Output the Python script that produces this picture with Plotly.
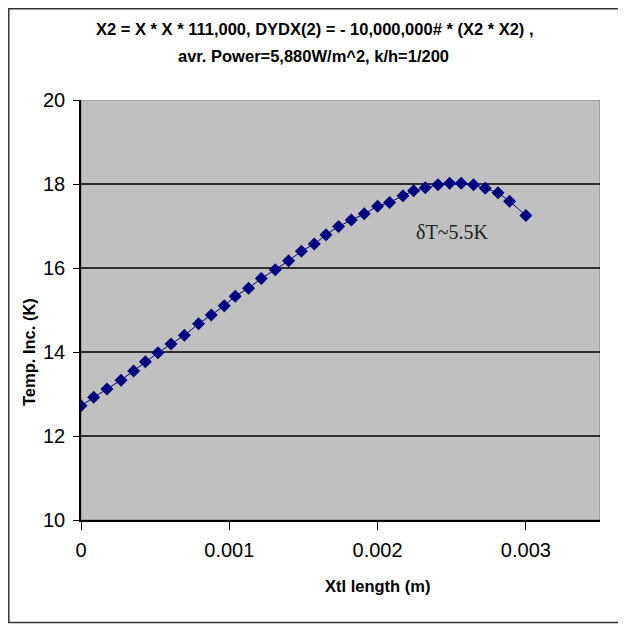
import plotly.graph_objects as go

# Data
xtl_length_m = [0.0, 0.000085, 0.000175, 0.00027, 0.000355, 0.000434, 0.000519, 0.000607,
                0.000697, 0.000793, 0.000879, 0.000966, 0.00104, 0.00113, 0.001216, 0.00131,
                0.0014, 0.001486, 0.001573, 0.001652, 0.001737, 0.001823, 0.00191, 0.002,
                0.002081, 0.002171, 0.002243, 0.002322, 0.002407, 0.002486, 0.002564, 0.002647,
                0.002726, 0.002812, 0.00289, 0.003]
temp_inc_k = [12.72, 12.92, 13.12, 13.33, 13.55, 13.77, 13.98, 14.19,
              14.40, 14.67, 14.88, 15.10, 15.33, 15.52, 15.75, 15.96,
              16.17, 16.40, 16.57, 16.79, 16.99, 17.14, 17.29, 17.47,
              17.56, 17.72, 17.84, 17.91, 17.98, 18.02, 18.02, 17.98,
              17.90, 17.79, 17.59, 17.25]
x_ticks = [0, 0.001, 0.002, 0.003]
x_tick_labels = ["0", "0.001", "0.002", "0.003"]
y_ticks = [10, 12, 14, 16, 18, 20]
grid_values = [12, 14, 16, 18]
x_range = [0, 0.0035]
y_range = [10, 20]

title_lines = ["X2 = X * X * 111,000, DYDX(2) = - 10,000,000# * (X2 * X2) ,",
               "avr. Power=5,880W/m^2, k/h=1/200"]
annot_text = "δT~5.5K"
annot_pos = (0.0025, 16.85)

SANS = "Liberation Sans, Arial, sans-serif"
NAVY = "#000080"

# figure geometry (page has an 8px body margin)
W, H = 618, 616
L, R, T, B = 73, 26, 92, 104
PW, PH = W - L - R, H - T - B


def px(fx):
    return (fx - L) / PW


def py(fy):
    return (H - B - fy) / PH


fig = go.Figure()
fig.add_trace(go.Scatter(
    x=xtl_length_m, y=temp_inc_k, mode="lines+markers",
    line=dict(color=NAVY, width=1),
    marker=dict(symbol="diamond", size=10, color=NAVY),
    showlegend=False, hoverinfo="x+y"))

shapes = []
shapes.append(dict(type="rect", xref="x", yref="y", x0=x_range[0], x1=x_range[1],
                   y0=y_range[0], y1=y_range[1], line=dict(color="#808080", width=1),
                   layer="below"))
for g in grid_values:
    shapes.append(dict(type="line", xref="x", yref="y", x0=x_range[0], x1=x_range[1],
                       y0=g, y1=g, line=dict(color="black", width=1.5), layer="below"))
# outer figure border
shapes.append(dict(type="rect", xref="paper", yref="paper",
                   x0=px(0.8), x1=px(W + 20), y0=py(614.5), y1=py(0.8),
                   line=dict(color="#333333", width=1.5)))

annotations = [
    dict(text="<b>" + title_lines[0] + "</b>", xref="paper", yref="paper",
         x=px(307), y=py(21), xanchor="center", yanchor="middle", showarrow=False,
         font=dict(family=SANS, size=16.5, color="black")),
    dict(text="<b>" + title_lines[1] + "</b>", xref="paper", yref="paper",
         x=px(305), y=py(48), xanchor="center", yanchor="middle", showarrow=False,
         font=dict(family=SANS, size=16.5, color="black")),
    dict(text="<b>Temp. Inc. (K)</b>", xref="paper", yref="paper",
         x=px(21), y=py(344), xanchor="center", yanchor="middle",
         textangle=-90, showarrow=False,
         font=dict(family=SANS, size=16.5, color="black")),
    dict(text="<b>Xtl length (m)</b>", xref="paper", yref="paper",
         x=px(369), y=py(578), xanchor="center", yanchor="middle",
         showarrow=False, font=dict(family=SANS, size=16.5, color="black")),
    dict(text=annot_text, x=annot_pos[0], y=annot_pos[1], xref="x", yref="y",
         showarrow=False, font=dict(family="Liberation Serif, Times New Roman, serif",
                                    size=20, color="#222222")),
]

fig.update_layout(
    width=W, height=H,
    margin=dict(l=L, r=R, t=T, b=B),
    paper_bgcolor="white", plot_bgcolor="#C0C0C0",
    shapes=shapes, annotations=annotations,
    xaxis=dict(range=x_range, tickvals=x_ticks, ticktext=x_tick_labels,
               showgrid=False, zeroline=False, showline=True, linecolor="black",
               linewidth=1.5, ticks="outside", ticklen=8, tickcolor="black",
               ticklabelstandoff=3,
               tickfont=dict(family=SANS, size=20, color="black")),
    yaxis=dict(range=y_range, tickvals=y_ticks, showgrid=False, zeroline=False,
               showline=True, linecolor="black", linewidth=1.5, ticks="outside",
               ticklen=6, tickcolor="black", ticklabelstandoff=4,
               tickfont=dict(family=SANS, size=20, color="black")),
)

fig.write_html("out.html")
